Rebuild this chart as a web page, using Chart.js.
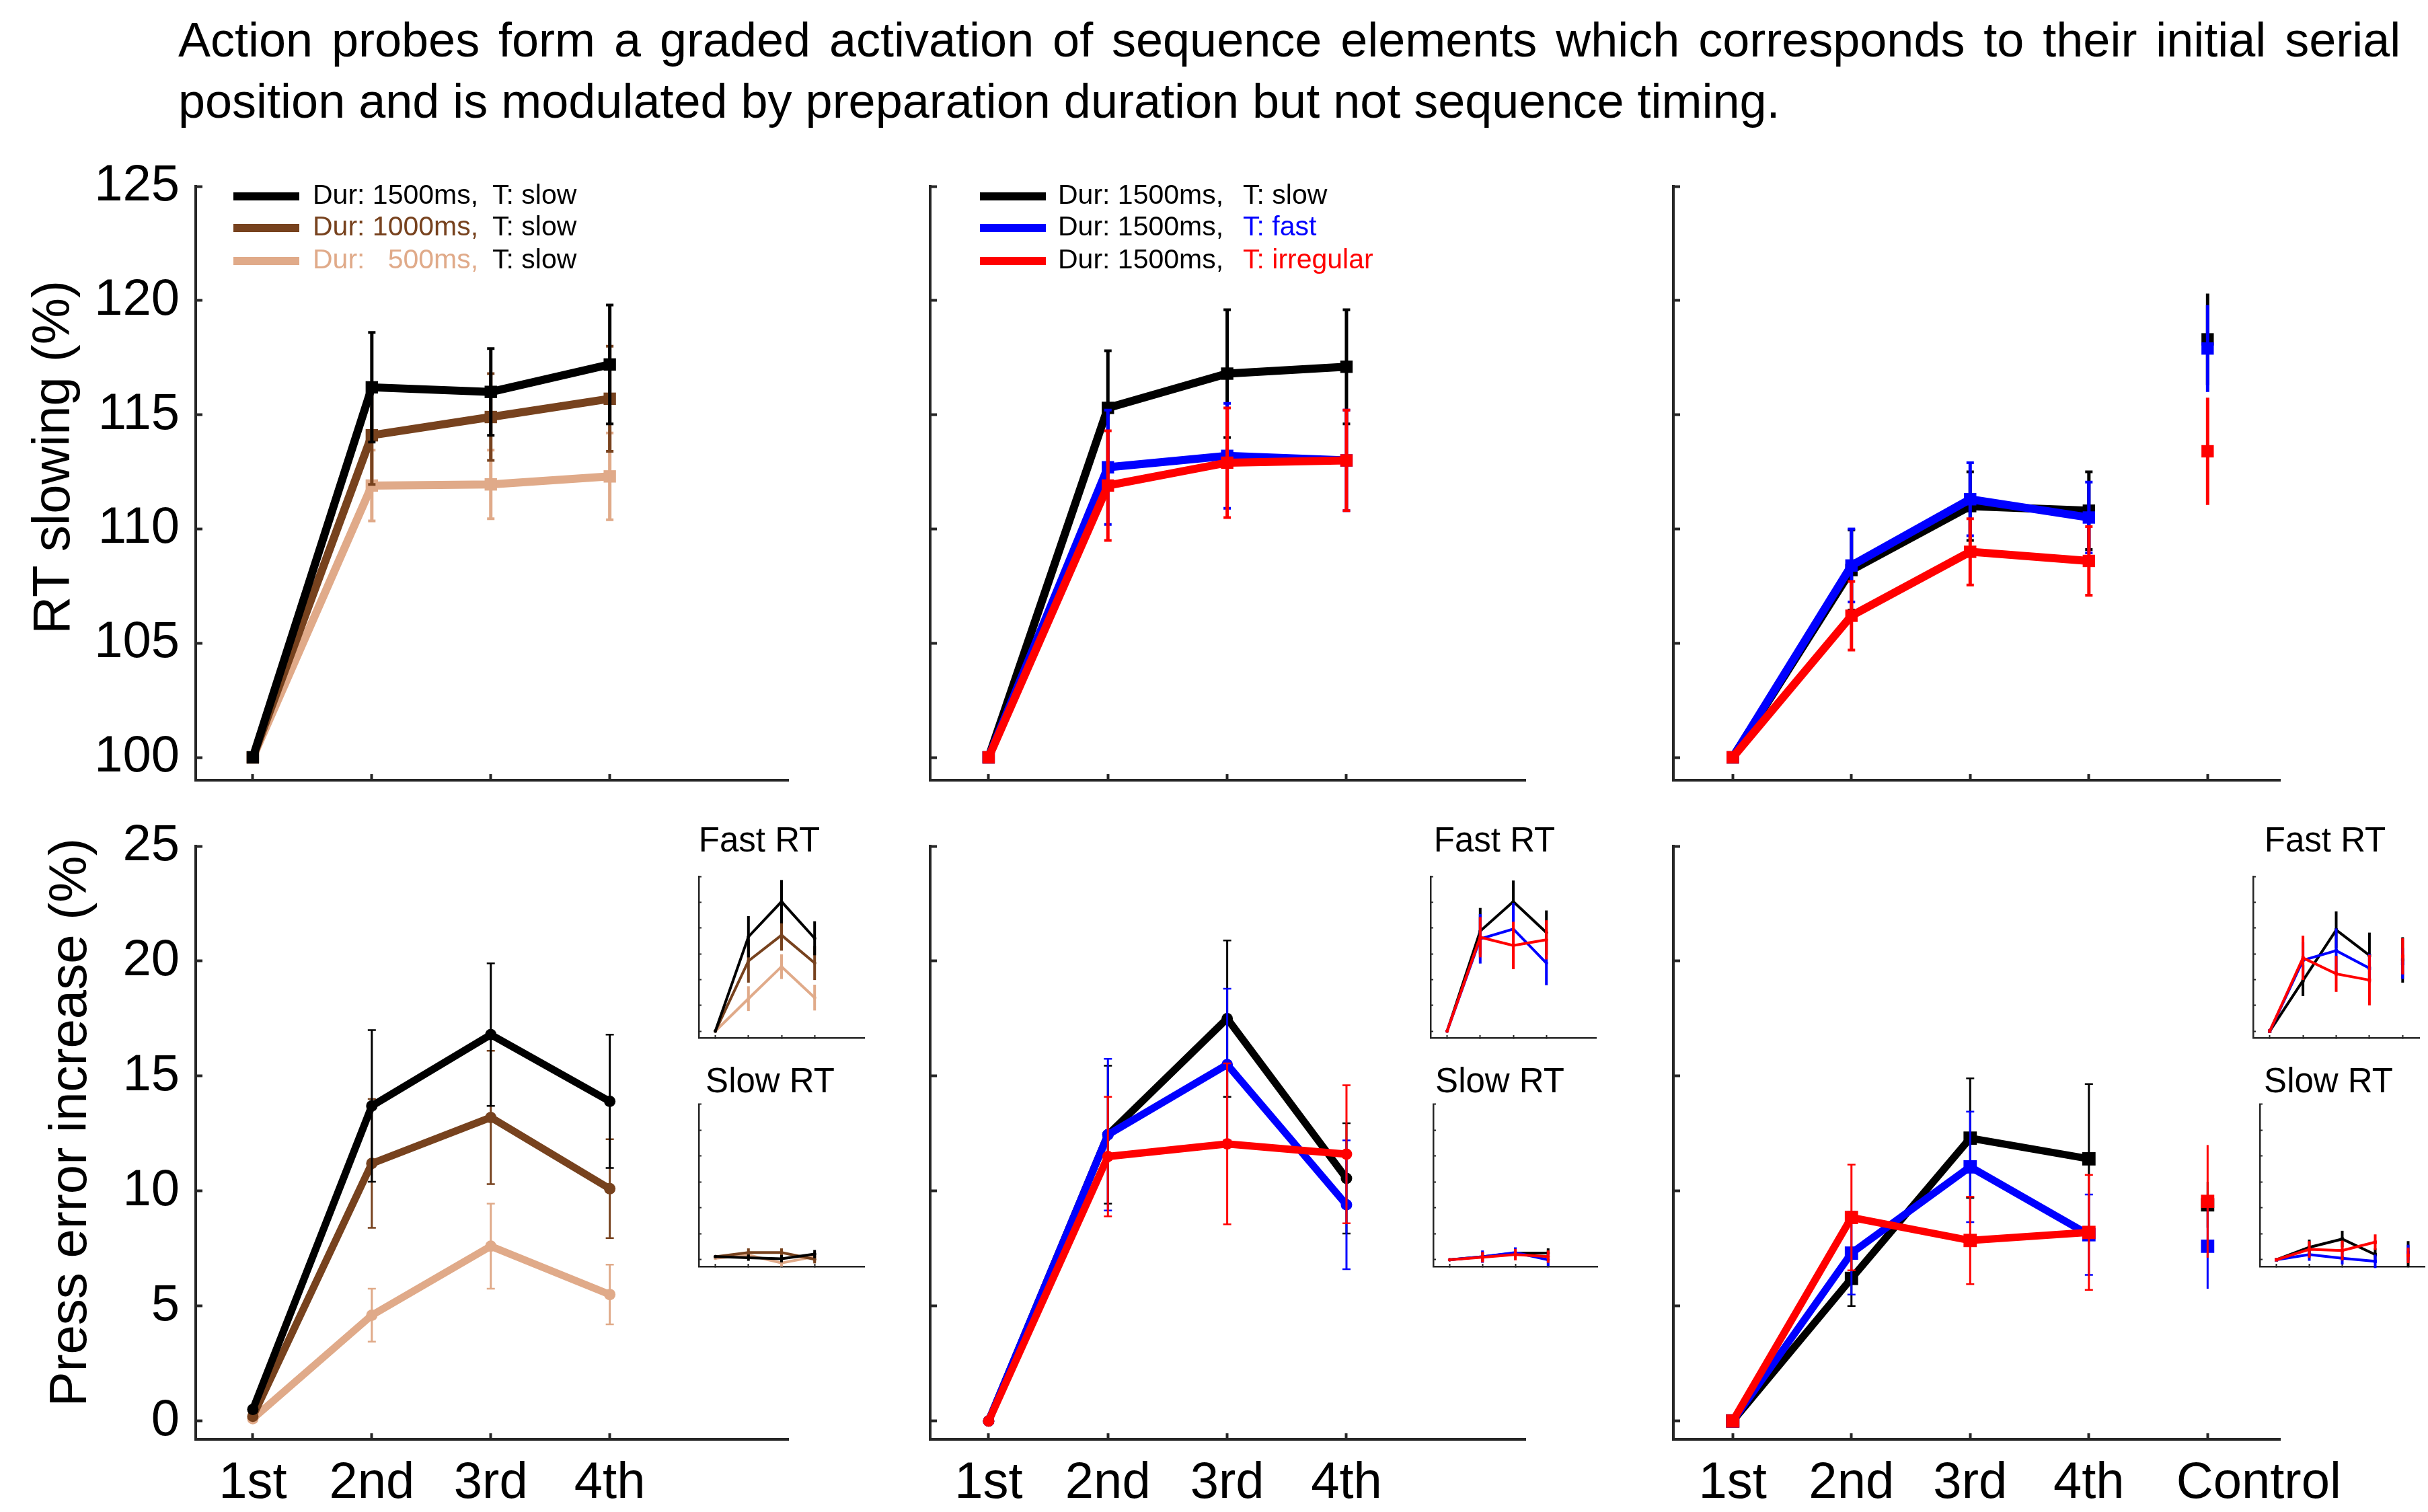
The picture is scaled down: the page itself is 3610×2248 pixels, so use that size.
<!DOCTYPE html>
<html>
<head>
<meta charset="utf-8">
<title>Action probes - RT slowing and press errors</title>
<script src="https://cdn.jsdelivr.net/npm/chart.js@4.4.1/dist/chart.umd.min.js"></script>
<style>
  html, body { margin: 0; padding: 0; background: #fff; }
  #fig { position: relative; width: 3610px; height: 2248px; overflow: hidden; background: #fff;
         font-family: 'Liberation Sans', Arial, Helvetica, sans-serif; color: #000; }
  #fig canvas { position: absolute; }
  .headline { position: absolute; left: 265px; font-size: 72px; line-height: 91px; white-space: nowrap; }
  .ylabel { position: absolute; font-size: 78px; line-height: 78px; white-space: nowrap;
            transform: translate(-50%, -50%) rotate(-90deg); }
</style>
</head>
<body>
<div id="fig">
  <div class="headline" style="top:14px; word-spacing:7.9px;">Action probes form a graded activation of sequence elements which corresponds to their initial serial</div>
  <div class="headline" style="top:105px;">position and is modulated by preparation duration but not sequence timing.</div>
  <div class="ylabel" style="left:76px; top:680px;">RT slowing (%)</div>
  <div class="ylabel" style="left:101px; top:1669px;">Press error increase (%)</div>
</div>
<script>
// ---- categories / ticks ----
const positionTicks = [1, 2, 3, 4];
const positionTicksCtrl = [1, 2, 3, 4, 5];
const positionLabels = ['1st', '2nd', '3rd', '4th', 'Control'];
const rtTicks = [100, 105, 110, 115, 120, 125];
const errTicks = [0, 5, 10, 15, 20, 25];
const insetTicks = [0, 5, 10, 15, 20, 25, 30];

// ---- legend text ----
const durLegendDur = ['1500ms,', '1000ms,', '500ms,'];
const durLegendTiming = ['T: slow', 'T: slow', 'T: slow'];
const timLegendDur = ['1500ms,', '1500ms,', '1500ms,'];
const timLegendTiming = ['T: slow', 'T: fast', 'T: irregular'];

// ---- RT slowing (%) ----
const rtDur1500 = [100, 116.2, 116.0, 117.2];
const rtDur1500Err = [0, 2.4, 1.9, 2.6];
const rtDur1000 = [100, 114.1, 114.9, 115.7];
const rtDur1000Err = [0, 2.15, 1.9, 2.3];
const rtDur500 = [100, 111.9, 111.95, 112.3];
const rtDur500Err = [0, 1.55, 1.5, 1.9];

const rtTimSlow = [100, 115.3, 116.8, 117.1];
const rtTimSlowErr = [0, 2.5, 2.8, 2.5];
const rtTimFast = [100, 112.7, 113.2, 113.0];
const rtTimFastErr = [0, 2.5, 2.3, 2.2];
const rtTimIrr = [100, 111.9, 112.9, 113.0];
const rtTimIrrErr = [0, 2.4, 2.4, 2.2];

const rtCtlSlow = [100, 108.2, 111.0, 110.8, 118.3];
const rtCtlSlowErr = [0, 1.75, 1.5, 1.7, 2.0];
const rtCtlFast = [100, 108.4, 111.3, 110.5, 117.9];
const rtCtlFastErr = [0, 1.6, 1.6, 1.55, 1.9];
const rtCtlIrr = [100, 106.2, 109.0, 108.6, 113.4];
const rtCtlIrrErr = [0, 1.5, 1.45, 1.5, 2.35];

// ---- Press error increase (%) ----
const peDur1500 = [0.5, 13.7, 16.8, 13.9];
const peDur1500Err = [0, 3.3, 3.1, 2.9];
const peDur1000 = [0.2, 11.2, 13.2, 10.1];
const peDur1000Err = [0, 2.8, 2.9, 2.15];
const peDur500 = [0.1, 4.6, 7.6, 5.5];
const peDur500Err = [0, 1.15, 1.85, 1.3];

const peTimSlow = [0, 12.45, 17.5, 10.55];
const peTimSlowErr = [0, 3.0, 3.4, 2.4];
const peTimFast = [0, 12.45, 15.5, 9.4];
const peTimFastErr = [0, 3.3, 3.3, 2.8];
const peTimIrr = [0, 11.5, 12.05, 11.6];
const peTimIrrErr = [0, 2.6, 3.5, 3.0];

const peCtlSlow = [0, 6.2, 12.3, 11.4, 9.4];
const peCtlSlowErr = [0, 1.2, 2.6, 3.25, 1.0];
const peCtlFast = [0, 7.3, 11.05, 8.1, 7.6];
const peCtlFastErr = [0, 1.8, 2.4, 1.75, 1.85];
const peCtlIrr = [0, 8.85, 7.85, 8.2, 9.55];
const peCtlIrrErr = [0, 2.3, 1.9, 2.5, 2.45];

// ---- insets: press errors split by fast / slow RT ----
const fastDur1500 = [0, 18.3, 25.1, 18.0];
const fastDur1500Err = [0, 4.0, 4.2, 3.3];
const fastDur1000 = [0, 13.6, 18.6, 13.2];
const fastDur1000Err = [0, 4.2, 3.0, 3.3];
const fastDur500 = [0, 6.3, 12.5, 6.5];
const fastDur500Err = [0, 2.4, 2.4, 2.5];
const slowDur1500 = [0.6, 0.4, 0.2, 1.1];
const slowDur1500Err = [0, 0.6, 0.7, 0.8];
const slowDur1000 = [0.6, 1.4, 1.4, 0.1];
const slowDur1000Err = [0, 0.8, 0.8, 0.8];
const slowDur500 = [0.3, 0.9, -0.6, 0.6];
const slowDur500Err = [0, 0.7, 0.7, 1.0];

const fastTimSlow = [0, 19.4, 25.1, 19.1];
const fastTimSlowErr = [0, 4.5, 4.1, 4.3];
const fastTimFast = [0, 17.9, 19.8, 13.2];
const fastTimFastErr = [0, 4.8, 5.0, 4.3];
const fastTimIrr = [0, 18.2, 16.6, 17.7];
const fastTimIrrErr = [0, 3.9, 4.6, 3.8];
const slowTimSlow = [0, 0.6, 1.3, 1.3];
const slowTimSlowErr = [0, 0.9, 0.9, 0.9];
const slowTimFast = [0, 0.6, 1.4, 0];
const slowTimFastErr = [0, 1.2, 1.0, 1.2];
const slowTimIrr = [0, 0.5, 1.0, 0.6];
const slowTimIrrErr = [0, 1.0, 1.1, 1.2];

const fastCtlSlow = [0, 9.8, 19.6, 14.7, 13.8];
const fastCtlSlowErr = [0, 3.0, 3.6, 4.4, 4.4];
const fastCtlFast = [0, 13.75, 15.6, 12.2, 13.1];
const fastCtlFastErr = [0, 3.5, 4.3, 2.8, 3.0];
const fastCtlIrr = [0, 14.2, 11.1, 9.9, 14.5];
const fastCtlIrrErr = [0, 4.3, 3.5, 4.9, 3.5];
const slowCtlSlow = [0, 2.4, 4.0, 1.0, 1.1];
const slowCtlSlowErr = [0, 1.5, 1.6, 1.2, 2.5];
const slowCtlFast = [0, 1.0, 0.3, -0.3, 1.4];
const slowCtlFastErr = [0, 1.2, 1.2, 1.3, 1.5];
const slowCtlIrr = [0, 2.0, 1.8, 3.4, 0.85];
const slowCtlIrrErr = [0, 1.6, 1.9, 1.5, 1.5];

// ---- look ----
const FONT = "'Liberation Sans', Arial, Helvetica, sans-serif";
const AXIS = '#262626';
const BLACK = '#000000', BROWN = '#77421e', TAN = '#e0aa89', BLUE = '#0000ff', RED = '#ff0000';
Chart.defaults.font.family = FONT;

const topSq = { lw: 12, marker: 'rect', r: 13, ew: 5, cap: 11, ct: 4 };
const botDot = { lw: 11, marker: 'circle', r: 8.5, ew: 3, cap: 12, ct: 2.5 };
const botSq = { lw: 11, marker: 'rect', r: 14, ew: 3, cap: 12, ct: 2.5 };
const insDot = { lw: 4, marker: 'circle', r: 2.5, ew: 4, cap: 0, ct: 0 };
const insSq = { lw: 4, marker: 'rect', r: 3.5, ew: 4, cap: 0, ct: 0 };

// error bars, drawn right after each dataset so the stacking follows the lines
const errorBars = {
  id: 'errorBars',
  afterDatasetDraw(chart, args) {
    const ds = chart.data.datasets[args.index];
    if (!ds.errors) return;
    const { ctx, scales: { x, y } } = chart;
    ctx.save();
    ctx.strokeStyle = ds.borderColor;
    ctx.lineCap = 'butt';
    ds.data.forEach((p, i) => {
      const e = ds.errors[i];
      if (!e) return;
      const px = x.getPixelForValue(p.x);
      const hi = y.getPixelForValue(p.y + e);
      const lo = y.getPixelForValue(p.y - e);
      ctx.lineWidth = ds.errWidth;
      ctx.beginPath(); ctx.moveTo(px, hi); ctx.lineTo(px, lo); ctx.stroke();
      if (ds.capWidth && i < 4) {
        const h = ds.capWidth / 2;
        ctx.lineWidth = ds.capThick;
        ctx.beginPath();
        ctx.moveTo(px - h, hi); ctx.lineTo(px + h, hi);
        ctx.moveTo(px - h, lo); ctx.lineTo(px + h, lo);
        ctx.stroke();
      }
    });
    ctx.restore();
  }
};

// legend with two-coloured text, like the original figure
const seriesKey = {
  id: 'seriesKey',
  afterDraw(chart, args, opts) {
    if (!opts || !opts.rows) return;
    const { ctx, chartArea: a } = chart;
    ctx.save();
    ctx.font = `${opts.size}px ${FONT}`;
    ctx.textBaseline = 'middle';
    const tx = a.left + opts.textX;
    const durEnd = tx + ctx.measureText('Dur: 1500ms,').width;
    opts.rows.forEach((r, i) => {
      const y = a.top + opts.rowY[i];
      ctx.strokeStyle = r.line;
      ctx.lineWidth = 12;
      ctx.beginPath(); ctx.moveTo(a.left + opts.lineX[0], y); ctx.lineTo(a.left + opts.lineX[1], y); ctx.stroke();
      ctx.fillStyle = r.durColor;
      ctx.textAlign = 'left'; ctx.fillText('Dur:', tx, y);
      ctx.textAlign = 'right'; ctx.fillText(r.dur, durEnd, y);
      ctx.fillStyle = r.timColor;
      ctx.textAlign = 'left'; ctx.fillText(r.timing, a.left + opts.timX, y);
    });
    ctx.restore();
  }
};

function series(ys, errs, color, st) {
  const xs = ys.length === 5 ? positionTicksCtrl : positionTicks;
  return {
    data: ys.map((v, i) => ({ x: xs[i], y: v })),
    errors: errs, errWidth: st.ew, capWidth: st.cap, capThick: st.ct,
    borderColor: color, backgroundColor: color, borderWidth: st.lw,
    pointStyle: st.marker, pointRadius: st.r, pointHoverRadius: st.r,
    pointBackgroundColor: color, pointBorderColor: color, pointBorderWidth: 0,
    tension: 0, clip: false,
    // the Control point stands alone, no line to it
    segment: { borderColor: c => c.p1DataIndex === 4 ? 'rgba(0,0,0,0)' : undefined }
  };
}

// x labels; the long "Control" label sits a bit right of its tick in the original
const positionLabel = v => (v === 5 ? '\u2002\u2002\u2002\u2002' : '') + positionLabels[v - 1];

function axis(dir, min, max, ticks, showLabels, size, tick, tickW, lineW, fmt) {
  const a = {
    type: 'linear', min, max,
    afterBuildTicks: s => { s.ticks = ticks.map(v => ({ value: v })); },
    afterFit: s => {
      if (dir === 'x') s.height = size; else s.width = size;
      s.paddingTop = s.paddingBottom = s.paddingLeft = s.paddingRight = 0;
    },
    ticks: { display: showLabels, autoSkip: false, maxRotation: 0, color: '#000',
             padding: dir === 'x' ? 29 : 34, font: { family: FONT, size: 76 } },
    grid: { drawOnChartArea: false, tickLength: -tick, tickWidth: tickW, tickColor: AXIS },
    border: { color: AXIS, width: lineW }
  };
  if (fmt) a.ticks.callback = fmt;
  return a;
}

function addCanvas(left, top, w, h) {
  const c = document.createElement('canvas');
  c.width = w; c.height = h;
  c.style.left = left + 'px'; c.style.top = top + 'px';
  c.style.width = w + 'px'; c.style.height = h + 'px';
  document.getElementById('fig').appendChild(c);
  return c;
}

const rowRT = { t: 277, b: 1160, yMin: 99, yMax: 125, yTicks: rtTicks, showX: false };
const rowPE = { t: 1258, b: 2140, yMin: -0.8, yMax: 25, yTicks: errTicks, showX: true };
const colDur = { l: 291, r: 1172, xMin: 0.52, xMax: 5.5, xTicks: positionTicks, showY: true };
const colTim = { l: 1383, r: 2268, xMin: 0.51, xMax: 5.5, xTicks: positionTicks, showY: false };
const colCtl = { l: 2488, r: 3390, xMin: 0.5, xMax: 5.61, xTicks: positionTicksCtrl, showY: false };

function mainPanel(row, col, sets, key) {
  const yw = col.showY ? 200 : 20;
  const xh = row.showX ? 120 : 14;
  const padT = 60, padR = 160;
  const cv = addCanvas(col.l - yw, row.t - padT, col.r - col.l + yw + padR, row.b - row.t + padT + xh);
  return new Chart(cv, {
    type: 'line',
    data: { datasets: sets },
    options: {
      responsive: false, animation: false, devicePixelRatio: 1, events: [],
      layout: { padding: { top: padT, right: padR, bottom: 0, left: 0 } },
      plugins: { legend: { display: false }, tooltip: { enabled: false }, seriesKey: key || false },
      scales: {
        x: axis('x', col.xMin, col.xMax, col.xTicks, row.showX, xh, 9, 4, 4, positionLabel),
        y: axis('y', row.yMin, row.yMax, row.yTicks, col.showY, yw, 10, 4, 4)
      }
    },
    plugins: [errorBars, seriesKey]
  });
}

const insetFast = { t: 1303, b: 1543, base: 1269, title: 'Fast RT' };
const insetSlow = { t: 1642, b: 1883, base: 1627, title: 'Slow RT' };

function insetPanel(l, r, yw, row, xTicks, sets) {
  const pr = 4, xh = 6;
  const top = Math.round(row.base - 48.3);
  const cv = addCanvas(l - yw, top, r - l + yw + pr, row.b - top + xh);
  return new Chart(cv, {
    type: 'line',
    data: { datasets: sets },
    options: {
      responsive: false, animation: false, devicePixelRatio: 1, events: [],
      layout: { padding: { top: 0, right: pr, bottom: 0, left: 0 } },
      plugins: {
        legend: { display: false }, tooltip: { enabled: false }, seriesKey: false,
        title: { display: true, text: row.title, color: '#000',
                 font: { family: FONT, size: 51, weight: 'normal' },
                 padding: { top: 0, bottom: row.t - top - 61.2 } }
      },
      scales: {
        x: axis('x', 0.5, 5.5, xTicks, false, xh, 4, 2, 2.5),
        y: axis('y', -1.3, 30, insetTicks, false, yw, 4, 2, 2.5)
      }
    },
    plugins: [errorBars]
  });
}

// ---- top row: RT slowing ----
mainPanel(rowRT, colDur, [
  series(rtDur1500, rtDur1500Err, BLACK, topSq),
  series(rtDur1000, rtDur1000Err, BROWN, topSq),
  series(rtDur500, rtDur500Err, TAN, topSq)
], {
  size: 41, lineX: [56, 154], textX: 174, timX: 441, rowY: [15, 62, 111],
  rows: durLegendDur.map((d, i) => ({ dur: d, timing: durLegendTiming[i],
    line: [BLACK, BROWN, TAN][i], durColor: [BLACK, BROWN, TAN][i], timColor: BLACK }))
});

mainPanel(rowRT, colTim, [
  series(rtTimIrr, rtTimIrrErr, RED, topSq),
  series(rtTimFast, rtTimFastErr, BLUE, topSq),
  series(rtTimSlow, rtTimSlowErr, BLACK, topSq)
], {
  size: 41, lineX: [74, 172], textX: 190, timX: 465, rowY: [15, 62, 111],
  rows: timLegendDur.map((d, i) => ({ dur: d, timing: timLegendTiming[i],
    line: [BLACK, BLUE, RED][i], durColor: BLACK, timColor: [BLACK, BLUE, RED][i] }))
});

mainPanel(rowRT, colCtl, [
  series(rtCtlIrr, rtCtlIrrErr, RED, topSq),
  series(rtCtlFast, rtCtlFastErr, BLUE, topSq),
  series(rtCtlSlow, rtCtlSlowErr, BLACK, topSq)
]);

// ---- bottom row: press errors ----
mainPanel(rowPE, colDur, [
  series(peDur1500, peDur1500Err, BLACK, botDot),
  series(peDur1000, peDur1000Err, BROWN, botDot),
  series(peDur500, peDur500Err, TAN, botDot)
]);

mainPanel(rowPE, colTim, [
  series(peTimIrr, peTimIrrErr, RED, botDot),
  series(peTimFast, peTimFastErr, BLUE, botDot),
  series(peTimSlow, peTimSlowErr, BLACK, botDot)
]);

mainPanel(rowPE, colCtl, [
  series(peCtlIrr, peCtlIrrErr, RED, botSq),
  series(peCtlFast, peCtlFastErr, BLUE, botSq),
  series(peCtlSlow, peCtlSlowErr, BLACK, botSq)
]);

// ---- insets ----
insetPanel(1039, 1285, 66, insetFast, positionTicks, [
  series(fastDur1500, fastDur1500Err, BLACK, insDot),
  series(fastDur1000, fastDur1000Err, BROWN, insDot),
  series(fastDur500, fastDur500Err, TAN, insDot)
]);
insetPanel(1039, 1285, 34, insetSlow, positionTicks, [
  series(slowDur1500, slowDur1500Err, BLACK, insDot),
  series(slowDur1000, slowDur1000Err, BROWN, insDot),
  series(slowDur500, slowDur500Err, TAN, insDot)
]);
insetPanel(2127, 2373, 56, insetFast, positionTicks, [
  series(fastTimIrr, fastTimIrrErr, RED, insDot),
  series(fastTimFast, fastTimFastErr, BLUE, insDot),
  series(fastTimSlow, fastTimSlowErr, BLACK, insDot)
]);
insetPanel(2131, 2375, 46, insetSlow, positionTicks, [
  series(slowTimIrr, slowTimIrrErr, RED, insDot),
  series(slowTimFast, slowTimFastErr, BLUE, insDot),
  series(slowTimSlow, slowTimSlowErr, BLACK, insDot)
]);
insetPanel(3350, 3597, 33, insetFast, positionTicksCtrl, [
  series(fastCtlIrr, fastCtlIrrErr, RED, insSq),
  series(fastCtlFast, fastCtlFastErr, BLUE, insSq),
  series(fastCtlSlow, fastCtlSlowErr, BLACK, insSq)
]);
insetPanel(3360, 3605, 41, insetSlow, positionTicksCtrl, [
  series(slowCtlIrr, slowCtlIrrErr, RED, insSq),
  series(slowCtlFast, slowCtlFastErr, BLUE, insSq),
  series(slowCtlSlow, slowCtlSlowErr, BLACK, insSq)
]);
</script>
</body>
</html>
